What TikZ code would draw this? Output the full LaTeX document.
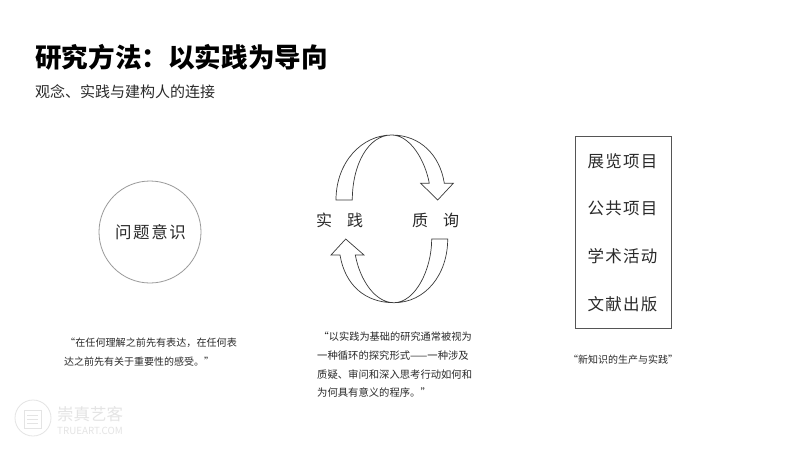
\documentclass[tikz,border=0pt]{standalone}
\usepackage{fontspec}
\setmainfont{Noto Sans CJK SC}
\newcommand{\fs}[1]{\fontsize{#1}{#1}\selectfont}
\newcommand{\spaced}[1]{\addfontfeature{LetterSpace=#1}}
\definecolor{ink}{HTML}{2A2A2A}
\definecolor{wm}{HTML}{E4E4E4}
\definecolor{circ}{HTML}{9A9A9A}
\definecolor{boxc}{HTML}{555555}
\definecolor{arrowc}{HTML}{3A3A3A}
\tikzset{
  shapeline/.style={draw=arrowc,line width=0.7pt,line join=miter},
  quotetext/.style={text=ink,inner sep=0pt,anchor=west},
  label/.style={text=ink,inner sep=0pt,font=\fs{16}},
  boxlabel/.style={text=ink,inner sep=0pt,font=\fs{16.5}\spaced{8}},
}
\begin{document}
\begin{tikzpicture}[x=1pt,y=-1pt]
\useasboundingbox (0,0) rectangle (800,450);
\fill[white] (0,0) rectangle (800,450);
\node[anchor=west,inner sep=0pt,font=\fs{26.6}\bfseries,text=black] (title) at (35,57) {研究方法：以实践为导向};
\node[anchor=west,inner sep=0pt,font=\fs{15},text=ink] (sub) at (35,92) {观念、实践与建构人的连接};

\node[circle,draw=circ,line width=0.8pt,minimum size=102pt,inner sep=0pt,text=ink,font=\fs{16.5}\spaced{10}] (c) at (150,232) {\hspace{1pt}问题意识};

% top arrow
\draw[shapeline] (336,200) .. controls (336,162) and (362,135) .. (391.7,135)
  .. controls (420,135) and (440,155) .. (444.3,183.3) -- (453.3,183.3) -- (437.7,200) -- (420.7,183.3) -- (429.3,183.3)
  .. controls (425,160) and (410,135) .. (391.7,135)
  .. controls (368,135) and (352.3,165) .. (352.3,200) -- cycle;
% bottom arrow
\draw[shapeline] (447.7,239) .. controls (447.7,275) and (425,302.7) .. (394,302.7)
  .. controls (365,302.7) and (345,285) .. (340,255) -- (331,255) -- (345.7,239) -- (364,255) -- (355.3,255)
  .. controls (360,280) and (375,302.7) .. (394,302.7)
  .. controls (415,302.7) and (431.7,270) .. (431.7,239) -- cycle;

\node[label] (a1) at (324,220) {实};
\node[label] (a2) at (355,220) {践};
\node[label] (a3) at (420,220) {质};
\node[label] (a4) at (451,220) {询};

\draw[draw=boxc,line width=0.9pt] (575,136) rectangle (671.5,328);
\node[boxlabel] (b1) at (622.5,161.5) {展览项目};
\node[boxlabel] (b2) at (622.5,208.5) {公共项目};
\node[boxlabel] (b3) at (622.5,256.5) {学术活动};
\node[boxlabel] (b4) at (622.5,304.5) {文献出版};

\node[quotetext,font=\fs{10.1}] (q1) at (65,342.5) {“在任何理解之前先有表达，在任何表};
\node[quotetext,font=\fs{10}] (q2) at (64,361.5) {达之前先有关于重要性的感受。”};

\node[quotetext,font=\fs{10.2}] (r1) at (318.5,337) {“以实践为基础的研究通常被视为};
\node[quotetext,font=\fs{10.33}] (r2) at (317,355.5) {一种循环的探究形式——一种涉及};
\node[quotetext,font=\fs{10.33}] (r3) at (317,374.5) {质疑、审问和深入思考行动如何和};
\node[quotetext,font=\fs{10.33}] (r4) at (317,393) {为何具有意义的程序。”};

\node[quotetext,font=\fs{10}] (s1) at (568,360) {“新知识的生产与实践”};

% watermark
\draw[wm,line width=0.8pt] (33,418) circle[radius=18];
\draw[wm,line width=0.8pt] (24,410) rectangle (41,428);
\draw[wm,line width=0.8pt] (27,415) -- (38,415) (27,419) -- (38,419) (27,423) -- (38,423);
\node[anchor=west,inner sep=0pt,font=\fs{16.5},text=wm] (w1) at (57,414) {崇真艺客};
\node[anchor=west,inner sep=0pt,font=\fs{9.8},text=wm] (w2) at (57,431) {TRUEART.COM};
\end{tikzpicture}
\end{document}
